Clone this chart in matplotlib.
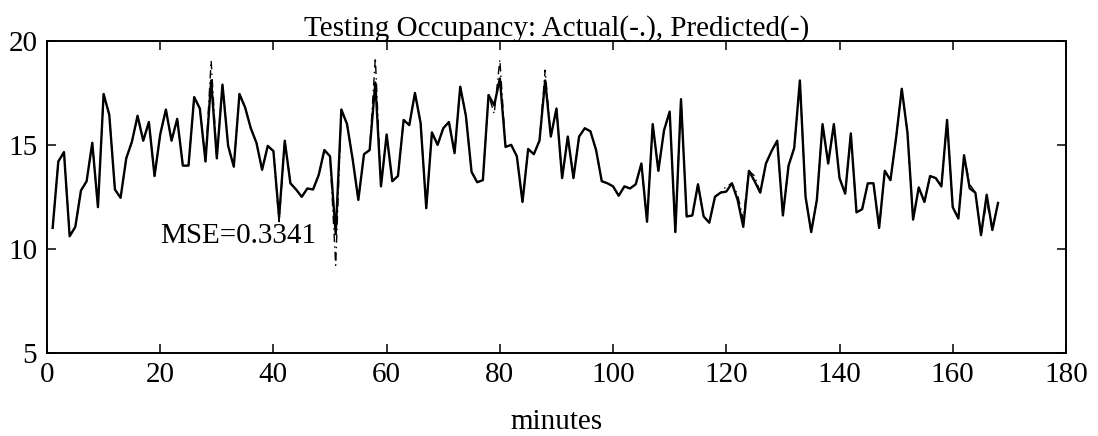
import matplotlib
matplotlib.use("Agg")
import matplotlib.pyplot as plt
import numpy as np

minutes = list(range(1, 169))

predicted = [
    11.0, 14.2, 14.65, 10.6, 11.05, 12.8, 13.25, 15.1, 12.0, 17.45,
    16.45, 12.85, 12.45, 14.35, 15.15, 16.4, 15.2, 16.1, 13.5, 15.5,
    16.7, 15.2, 16.25, 14.0, 14.0, 17.3, 16.75, 14.2, 18.1, 14.35,
    17.9, 14.95, 13.95, 17.45, 16.8, 15.8, 15.1, 13.8, 14.95, 14.7,
    11.5, 15.2, 13.15, 12.85, 12.5, 12.9, 12.85, 13.55, 14.75, 14.45,
    10.7, 16.7, 16.0, 14.3, 12.35, 14.55, 14.75, 18.0, 13.0, 15.5,
    13.25, 13.5, 16.2, 15.95, 17.5, 16.05, 11.95, 15.6, 15.0, 15.8,
    16.1, 14.6, 17.8, 16.4, 13.7, 13.2, 13.3, 17.4, 16.9, 18.2,
    14.9, 15.0, 14.45, 12.25, 14.8, 14.55, 15.2, 18.1, 15.4, 16.75,
    13.4, 15.4, 13.4, 15.4, 15.8, 15.65, 14.75, 13.25, 13.15, 13.0,
    12.55, 13.0, 12.9, 13.1, 14.1, 11.3, 16.0, 13.75, 15.7, 16.6,
    10.8, 17.2, 11.55, 11.6, 13.1, 11.55, 11.25, 12.5, 12.7, 12.75,
    13.15, 12.35, 11.05, 13.75, 13.25, 12.7, 14.1, 14.7, 15.2, 11.6,
    14.0, 14.85, 18.1, 12.5, 10.8, 12.35, 16.0, 14.1, 16.0, 13.4,
    12.65, 15.55, 11.75, 11.9, 13.15, 13.15, 11.0, 13.75, 13.3, 15.35,
    17.7, 15.6, 11.4, 12.95, 12.25, 13.5, 13.4, 13.0, 16.2, 12.0,
    11.45, 14.5, 12.9, 12.7, 10.65, 12.6, 10.9, 12.2,
]

actual = [
    11.0, 14.2, 14.65, 10.6, 11.05, 12.8, 13.25, 15.1, 12.0, 17.45,
    16.45, 12.85, 12.45, 14.35, 15.15, 16.4, 15.2, 16.1, 13.5, 15.5,
    16.7, 15.2, 16.25, 14.0, 14.0, 17.3, 16.75, 14.2, 19.05, 14.35,
    17.9, 14.95, 13.95, 17.45, 16.8, 15.8, 15.1, 13.8, 14.95, 14.7,
    11.3, 15.2, 13.15, 12.85, 12.5, 12.9, 12.85, 13.55, 14.75, 14.45,
    9.2, 16.7, 16.0, 14.3, 12.35, 14.55, 14.75, 19.2, 13.0, 15.5,
    13.25, 13.5, 16.2, 15.95, 17.5, 16.05, 11.95, 15.6, 15.0, 15.8,
    16.1, 14.6, 17.8, 16.4, 13.7, 13.2, 13.3, 17.4, 16.5, 19.1,
    14.9, 15.0, 14.45, 12.25, 14.8, 14.55, 15.2, 18.6, 15.4, 16.75,
    13.4, 15.4, 13.4, 15.4, 15.8, 15.65, 14.75, 13.25, 13.15, 13.0,
    12.55, 13.0, 12.9, 13.1, 14.1, 11.3, 16.0, 13.75, 15.7, 16.6,
    10.8, 17.2, 11.55, 11.6, 13.1, 11.55, 11.25, 12.5, 12.7, 13.0,
    13.15, 12.6, 11.4, 13.75, 13.5, 12.7, 14.1, 14.7, 15.2, 11.6,
    14.0, 14.85, 18.1, 12.5, 10.8, 12.35, 16.0, 14.1, 16.0, 13.4,
    12.65, 15.55, 11.75, 11.9, 13.15, 13.15, 11.0, 13.75, 13.3, 15.35,
    17.7, 15.6, 11.4, 12.95, 12.25, 13.5, 13.4, 13.0, 16.2, 12.0,
    11.45, 14.5, 13.1, 12.7, 10.65, 12.3, 10.9, 12.2,
]

x_ticks = [0, 20, 40, 60, 80, 100, 120, 140, 160, 180]
y_ticks = [5, 10, 15, 20]

plt.rcParams['font.family'] = ['Liberation Serif', 'DejaVu Serif']
FS = 21

fig = plt.figure(figsize=(10.98, 4.36), dpi=100)
ax = fig.add_axes([0.0428, 0.1915, 0.928, 0.7144])

ax.plot(minutes, actual, color='black', lw=1.0, linestyle=(0, (6, 3, 1, 3)))
ax.plot(minutes, predicted, color='black', lw=1.7, linestyle='-')

ax.set_xlim(0, 180)
ax.set_ylim(5, 20)
ax.set_xticks(x_ticks)
ax.set_yticks(y_ticks)
ax.tick_params(direction='in', length=6.5, width=1.1, top=True, right=True,
               labelsize=FS, pad=7)
for s in ax.spines.values():
    s.set_linewidth(1.4)

ax.set_title('Testing Occupancy: Actual(-.), Predicted(-)', fontsize=FS, pad=4)
ax.set_xlabel('minutes', fontsize=FS, labelpad=15)
ax.text(20, 10.28, 'MSE=0.3341', fontsize=FS, va='baseline', ha='left')

fig.savefig('out.png', dpi=100)
